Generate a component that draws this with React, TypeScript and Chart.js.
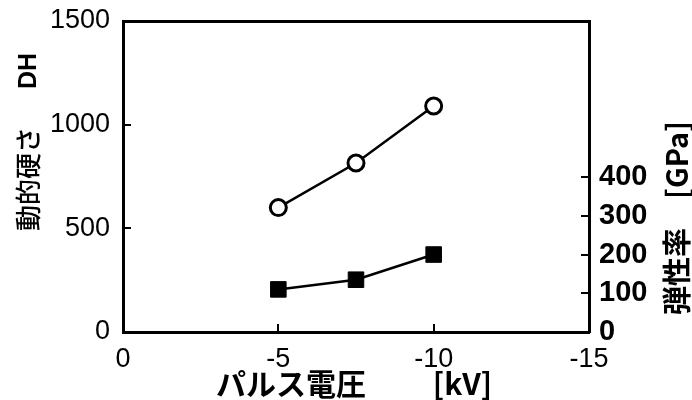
import React, { useEffect, useRef } from "react";
import { Chart, registerables } from "chart.js";

Chart.register(...registerables);

// ---- data ----
const voltages = [-5, -7.5, -10];
const hardnessDH = [600, 815, 1090];
const modulusGPa = [110, 135, 200];
const xTicks = [0, -5, -10, -15];
const leftTicks = [0, 500, 1000, 1500];
const rightTicks = [0, 100, 200, 300, 400];
const xRange = [-15, 0];
const leftRange = [0, 1500];
const rightRange = [0, 803];
const xTitle = "パルス電圧　　 [kV]";
const leftTitleMain = "動的硬さ";
const leftTitleUnit = "DH";
const rightTitle = "弾性率　[GPa]";

const JP = "'Noto Sans CJK JP', 'Noto Sans', sans-serif";
const ARIAL = "'Liberation Sans', Arial, sans-serif";

const titlePlugin = {
  id: "axisTitlesCustom",
  afterDraw(chart: any) {
    const { ctx, chartArea: a } = chart;
    ctx.save();
    ctx.fillStyle = "#000";
    ctx.textAlign = "left";
    ctx.textBaseline = "middle";
    // bottom title
    ctx.font = "bold 30px " + JP;
    ctx.fillText(xTitle, a.left + 93, a.bottom + 52);
    // left title
    ctx.save();
    ctx.translate(28, a.top + 210);
    ctx.rotate(-Math.PI / 2);
    ctx.font = "500 26px " + JP;
    ctx.textAlign = "left";
    ctx.fillText(leftTitleMain, 0, 0);
    ctx.font = "bold 25px 'Liberation Sans'";
    ctx.textAlign = "right";
    ctx.fillText(leftTitleUnit, 178, 1);
    ctx.restore();
    // right title
    ctx.save();
    ctx.translate(a.right + 88, a.top + 294);
    ctx.rotate(-Math.PI / 2);
    ctx.font = "bold 29px " + JP;
    ctx.textAlign = "left";
    ctx.fillText(rightTitle, 0, 0);
    ctx.restore();
    ctx.restore();
  },
};

function noPad(s: any) {
  s.paddingTop = 0;
  s.paddingBottom = 0;
  s.paddingLeft = 0;
  s.paddingRight = 0;
}

export default function App() {
  const ref = useRef<HTMLCanvasElement | null>(null);

  useEffect(() => {
    if (!ref.current) return;
    const gridCommon = {
      drawOnChartArea: false,
      tickLength: -8,
      color: "#000",
      lineWidth: 2,
    };
    const borderCommon = { color: "#000", width: 3 };
    const chart = new Chart(ref.current, {
      type: "line",
      data: {
        datasets: [
          {
            label: "動的硬さ",
            data: voltages.map((x, i) => ({ x, y: hardnessDH[i] })),
            yAxisID: "y",
            xAxisID: "x",
            borderColor: "#000",
            borderWidth: 2.5,
            pointStyle: "circle",
            pointRadius: 8,
            pointBorderWidth: 3,
            pointBorderColor: "#000",
            pointBackgroundColor: "#fff",
          },
          {
            label: "弾性率",
            data: voltages.map((x, i) => ({ x, y: modulusGPa[i] })),
            yAxisID: "y2",
            xAxisID: "x",
            borderColor: "#000",
            borderWidth: 2.5,
            pointStyle: "rect",
            pointRadius: 11,
            pointBorderWidth: 1,
            pointBorderColor: "#000",
            pointBackgroundColor: "#000",
          },
        ],
      },
      options: {
        responsive: false,
        animation: false,
        devicePixelRatio: 1,
        layout: { padding: 0 },
        plugins: { legend: { display: false }, tooltip: { enabled: false } },
        scales: {
          x: {
            type: "linear",
            position: "bottom",
            min: xRange[0],
            max: xRange[1],
            reverse: true,
            afterBuildTicks: (s: any) => {
              s.ticks = xTicks.map((v) => ({ value: v }));
            },
            afterFit: (s: any) => {
              s.height = 68;
              noPad(s);
            },
            ticks: {
              color: "#000",
              font: { family: ARIAL, size: 27 },
              padding: 19,
              maxRotation: 0,
              autoSkip: false,
              callback: (v: any) => String(v),
            },
            grid: gridCommon,
            border: borderCommon,
          },
          xTop: {
            type: "linear",
            position: "top",
            min: xRange[0],
            max: xRange[1],
            reverse: true,
            ticks: { display: false },
            grid: { display: false },
            border: borderCommon,
            afterFit: (s: any) => {
              s.height = 21;
              noPad(s);
            },
          },
          y: {
            type: "linear",
            position: "left",
            min: leftRange[0],
            max: leftRange[1],
            afterBuildTicks: (s: any) => {
              s.ticks = leftTicks.map((v) => ({ value: v }));
            },
            afterFit: (s: any) => {
              s.width = 123;
              noPad(s);
            },
            ticks: {
              color: "#000",
              font: { family: ARIAL, size: 27 },
              padding: 21,
              callback: (v: any) => String(v),
            },
            grid: gridCommon,
            border: borderCommon,
          },
          y2: {
            type: "linear",
            position: "right",
            min: rightRange[0],
            max: rightRange[1],
            afterBuildTicks: (s: any) => {
              s.ticks = rightTicks.map((v) => ({ value: v }));
            },
            afterFit: (s: any) => {
              s.width = 103;
              noPad(s);
            },
            ticks: {
              color: "#000",
              font: { family: ARIAL, size: 29, weight: "bold" },
              padding: 18,
              callback: (v: any) => String(v),
            },
            grid: gridCommon,
            border: borderCommon,
          },
        },
      },
      plugins: [titlePlugin],
    } as any);
    return () => chart.destroy();
  }, []);

  return (
    <div style={{ position: "fixed", left: 0, top: 0, width: 692, height: 400, background: "#fff" }}>
      <canvas ref={ref} width={692} height={400} />
    </div>
  );
}
